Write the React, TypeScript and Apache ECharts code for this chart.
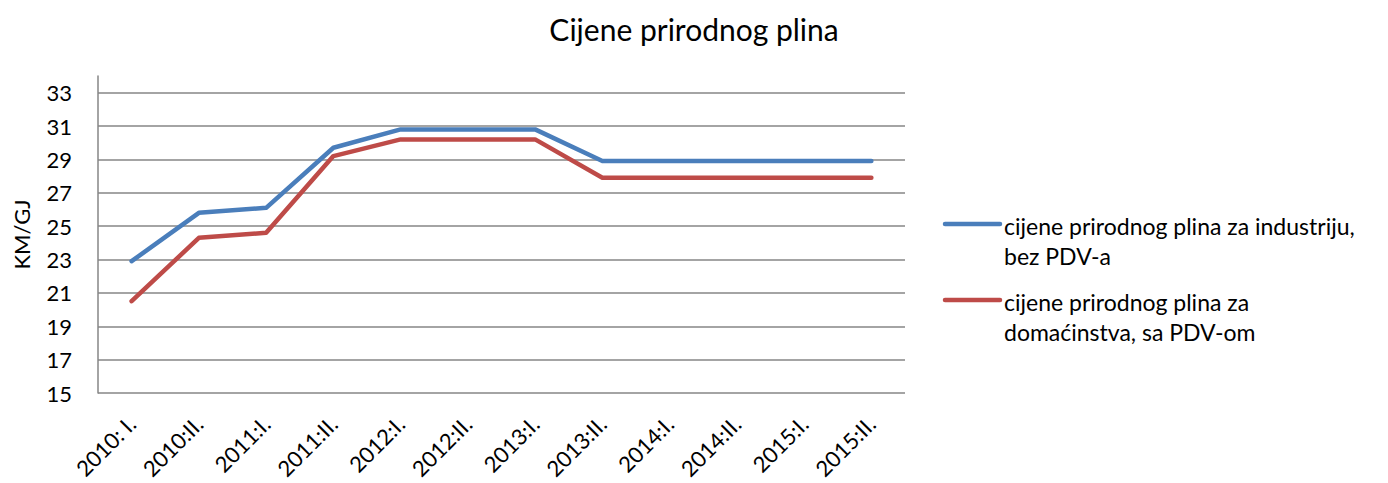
import React, { useEffect, useRef } from "react";
import * as echarts from "echarts";

const categories = ["2010: I.", "2010:II.", "2011:I.", "2011:II.", "2012:I.", "2012:II.", "2013:I.", "2013:II.", "2014:I.", "2014:II.", "2015:I.", "2015:II."];
const industryValues = [22.9, 25.8, 26.1, 29.7, 30.8, 30.8, 30.8, 28.9, 28.9, 28.9, 28.9, 28.9];
const householdValues = [20.5, 24.3, 24.6, 29.2, 30.2, 30.2, 30.2, 27.9, 27.9, 27.9, 27.9, 27.9];
const seriesNames = ["cijene prirodnog plina za industriju,\nbez PDV-a", "cijene prirodnog plina za\ndomaćinstva, sa PDV-om"];
const seriesColors = ["#4A7EBB", "#BE4B48"];
const titleText = "Cijene prirodnog plina";
const yAxisName = "KM/GJ";

const FONT = "Lato";

export default function App() {
  const ref = useRef<HTMLDivElement>(null);
  useEffect(() => {
    document.body.style.margin = "0";
    const chart = echarts.init(ref.current!, null, { renderer: "svg" });
    const values = [industryValues, householdValues];
    const legendTops = [211, 287];
    chart.setOption({
      animation: false,
      backgroundColor: "#ffffff",
      title: {
        text: titleText,
        left: "center",
        top: 9,
        textStyle: { fontFamily: FONT, fontSize: 30, fontWeight: "normal", color: "#000" },
      },
      grid: { left: 98, right: 483, top: 76, bottom: 90, outerBoundsMode: "none", containLabel: false },
      xAxis: {
        type: "category",
        data: categories,
        boundaryGap: true,
        axisLine: { show: false },
        axisTick: { show: false },
        axisLabel: { rotate: 45, margin: 27, fontFamily: FONT, fontSize: 22, color: "#000", interval: 0 },
        splitLine: { show: false },
      },
      yAxis: {
        type: "value",
        min: 15,
        max: 34,
        interval: 2,
        name: yAxisName,
        nameLocation: "middle",
        nameGap: 66,
        nameTextStyle: { fontFamily: FONT, fontSize: 22, color: "#000" },
        axisLine: { show: true, lineStyle: { color: "#868686", width: 1.5 } },
        axisTick: { show: false },
        axisLabel: {
          margin: 26,
          fontFamily: FONT,
          fontSize: 22,
          color: "#000",
          showMaxLabel: false,
          formatter: (v: number) => (v === 34 ? "" : String(v)),
        },
        splitLine: { show: true, showMaxLine: false, lineStyle: { color: "#868686", width: 1.5 } },
      },
      series: values.map((d, i) => ({
        name: seriesNames[i],
        type: "line",
        data: d,
        symbol: "none",
        lineStyle: { color: seriesColors[i], width: 4.5, cap: "round", join: "round" },
        itemStyle: { color: seriesColors[i] },
      })),
      graphic: seriesNames.flatMap((n, i) => [
        {
          type: "line",
          shape: { x1: 945, y1: legendTops[i] + 13, x2: 1000, y2: legendTops[i] + 13 },
          style: { stroke: seriesColors[i], lineWidth: 4.5, lineCap: "round" },
        },
        {
          type: "text",
          x: 1004,
          y: legendTops[i],
          style: { text: n, fontFamily: FONT, fontSize: 23, lineHeight: 30, fill: "#000" },
        },
      ]),
    });
    return () => chart.dispose();
  }, []);
  return <div ref={ref} style={{ width: 1388, height: 483 }} />;
}
